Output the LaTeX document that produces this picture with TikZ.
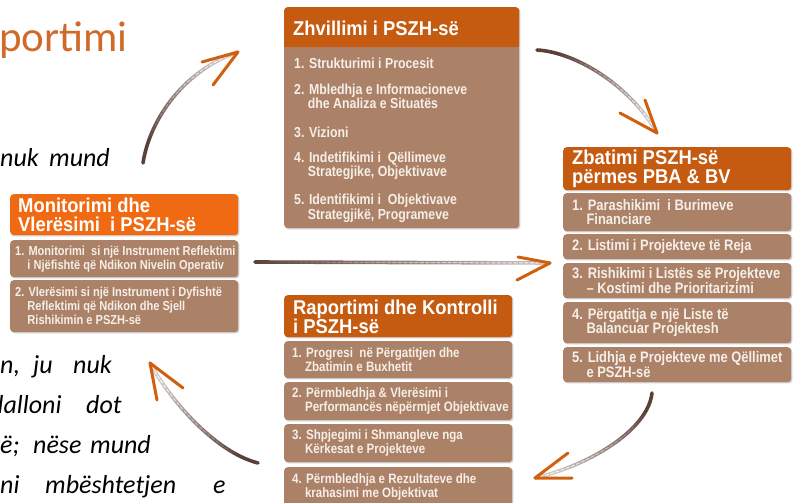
\documentclass[tikz,border=0pt]{standalone}
\usepackage{fontspec}
\setmainfont{Carlito}
\newfontfamily\boxfont[FakeStretch=0.92]{Liberation Sans}
\newfontfamily\itemfont[FakeStretch=0.85]{Liberation Sans}
\usetikzlibrary{fadings,shadows}

\definecolor{hdrorange}{HTML}{C55A11}
\definecolor{hdrbright}{HTML}{F06A14}
\definecolor{bodybrown}{HTML}{AB8267}
\definecolor{itemwhite}{HTML}{F6EEE8}
\definecolor{shaftbrown}{HTML}{5B4038}
\definecolor{headorange}{HTML}{D0600E}
\definecolor{titleorange}{HTML}{D06A28}

\tikzfading[name=shaftfade, left color=transparent!0, right color=transparent!70]
\tikzfading[name=dashfade, left color=transparent!100, right color=transparent!10]

% indent of a second line, aligned after the item number
\newcommand\hng{\hphantom{1.\ }}

\tikzset{
  panel/.style={rounded corners=3.5pt, inner sep=0pt, anchor=north west},
  shadowed/.style={drop shadow={shadow xshift=1.2pt, shadow yshift=-1.2pt, fill=black, opacity=0.18}},
  hdrbox/.style={panel, fill=hdrorange},
  itembox/.style={panel, fill=bodybrown, shadowed},
  hdrtext/.style={font=\boxfont\bfseries\fontsize{20}{19.5}\selectfont, text=white, align=left, anchor=west, inner sep=0pt},
  itemtext/.style={font=\itemfont\bfseries\fontsize{14.5}{13.5}\selectfont, text=itemwhite, align=left, anchor=west, inner sep=0pt},
  widetext/.style={itemtext, font=\itemfont\bfseries\fontsize{15.2}{14.5}\selectfont},
  nartext/.style={itemtext, font=\itemfont\bfseries\fontsize{13.6}{13.5}\selectfont},
  smalltext/.style={itemtext, font=\itemfont\bfseries\fontsize{13}{14}\selectfont},
  prose/.style={font=\itshape\fontsize{26}{30}\selectfont, anchor=base west, inner sep=0pt},
  shaft/.style={line width=3.6pt, draw=shaftbrown, line cap=round, path fading=shaftfade},
  shaftdash/.style={line width=1pt, draw=white, dash pattern=on 4pt off 1.5pt, path fading=dashfade},
  tip/.style={line width=3pt, draw=headorange, line cap=round, line join=round},
}

\begin{document}
\begin{tikzpicture}[x=1pt, y=-1pt]
\useasboundingbox (0,0) rectangle (793,503);
\clip (0,0) rectangle (793,503);

% slide title and body text partly covered by the cycle
\node[font=\fontsize{43}{43}\selectfont, text=titleorange, anchor=base west, inner sep=0pt] (title) at (-1,52) {portimi};

\node[prose] (p1a) at (0,166) {nuk};
\node[prose] (p1b) at (49,166) {mund};
\node[prose] (p2a) at (0,373) {n,};
\node[prose] (p2b) at (33,373) {ju};
\node[prose] (p2c) at (73,373) {nuk};
\node[prose] (p3a) at (-10,413) {dalloni};
\node[prose] (p3b) at (86,413) {dot};
\node[prose] (p4a) at (-9,453) {rë;};
\node[prose] (p4b) at (33,453) {nëse};
\node[prose] (p4c) at (90,453) {mund};
\node[prose] (p5a) at (0,493) {ni};
\node[prose] (p5b) at (45,493) {mbështetjen};
\node[prose] (p5c) at (213,493) {e};

% ---- Zhvillimi i PSZH-se (one panel with header)
\node[itembox, minimum width=235pt, minimum height=221pt] (abody) at (284,7) {};
\node[hdrbox, minimum width=235pt, minimum height=40pt] (ahead) at (284,7) {};
\fill[hdrorange] (ahead.west) rectangle (ahead.south east);
\node[hdrtext] (aheadt) at (293,28) {Zhvillimi i PSZH-së};
\node[itemtext] (a1) at (294,63) {1. Strukturimi i Procesit};
\node[itemtext] (a2) at (294,96.5) {2. Mbledhja e Informacioneve\\\hng dhe Analiza e Situatës};
\node[itemtext] (a3) at (294,132) {3. Vizioni};
\node[itemtext] (a4) at (294,166) {4. Indetifikimi i\ \ Qëllimeve\\\hng Strategjike, Objektivave};
\node[itemtext] (a5) at (294,208.5) {5. Identifikimi i\ \ Objektivave\\\hng Strategjikë, Programeve};

% ---- Zbatimi PSZH-se
\node[hdrbox, shadowed, minimum width=228pt, minimum height=43pt] (bhead) at (563,147) {};
\node[hdrtext] (bheadt) at (572,169) {Zbatimi PSZH-së\\përmes PBA \& BV};
\node[itembox, minimum width=228pt, minimum height=38pt] (b1) at (563,193) {};
\node[itembox, minimum width=228pt, minimum height=25pt] (b2) at (563,234) {};
\node[itembox, minimum width=228pt, minimum height=35pt] (b3) at (563,263) {};
\node[itembox, minimum width=228pt, minimum height=41pt] (b4) at (563,302) {};
\node[itembox, minimum width=228pt, minimum height=35pt] (b5) at (563,347) {};
\node[widetext] (b1t) at ([xshift=9pt]b1.west) {1. Parashikimi\ \ i Burimeve\\\hng Financiare};
\node[widetext] (b2t) at ([xshift=9pt]b2.west) {2. Listimi i Projekteve të Reja};
\node[widetext] (b3t) at ([xshift=9pt]b3.west) {3. Rishikimi i Listës së Projekteve\\\hng – Kostimi dhe Prioritarizimi};
\node[widetext] (b4t) at ([xshift=9pt]b4.west) {4. Përgatitja e një Liste të\\\hng Balancuar Projektesh};
\node[widetext] (b5t) at ([xshift=9pt]b5.west) {5. Lidhja e Projekteve me Qëllimet\\\hng e PSZH-së};

% ---- Monitorimi dhe Vleresimi
\node[hdrbox, shadowed, fill=hdrbright, minimum width=228pt, minimum height=41pt] (chead) at (10,194) {};
\node[hdrtext] (cheadt) at (18,215) {Monitorimi dhe\\Vlerësimi\ \ i PSZH-së};
\node[itembox, minimum width=228pt, minimum height=37pt] (c1) at (10,240) {};
\node[itembox, minimum width=228pt, minimum height=52pt] (c2) at (10,280) {};
\node[smalltext] (c1t) at ([xshift=5pt]c1.west) {1. Monitorimi\ \ si një Instrument Reflektimi\\\hng i Njëfishtë që Ndikon Nivelin Operativ};
\node[smalltext] (c2t) at ([xshift=5pt]c2.west) {2. Vlerësimi si një Instrument i Dyfishtë\\\hng Reflektimi që Ndikon dhe Sjell\\\hng Rishikimin e PSZH-së};

% ---- Raportimi dhe Kontrolli
\node[hdrbox, shadowed, minimum width=228pt, minimum height=42pt] (dhead) at (284,295) {};
\node[hdrtext] (dheadt) at (293,317) {Raportimi dhe Kontrolli\\i PSZH-së};
\node[itembox, minimum width=228pt, minimum height=37pt] (d1) at (284,341) {};
\node[itembox, minimum width=228pt, minimum height=38pt] (d2) at (284,382) {};
\node[itembox, minimum width=228pt, minimum height=38pt] (d3) at (284,424) {};
\node[itembox, minimum width=228pt, minimum height=40pt] (d4) at (284,467) {};
\node[nartext] (d1t) at ([xshift=8pt]d1.west) {1. Progresi\ \ në Përgatitjen dhe\\\hng Zbatimin e Buxhetit};
\node[nartext] (d2t) at ([xshift=8pt]d2.west) {2. Përmbledhja \& Vlerësimi i\\\hng Performancës nëpërmjet Objektivave};
\node[nartext] (d3t) at ([xshift=8pt]d3.west) {3. Shpjegimi i Shmangleve nga\\\hng Kërkesat e Projekteve};
\node[nartext] (d4t) at ([xshift=8pt]d4.west) {4. Përmbledhja e Rezultateve dhe\\\hng krahasimi me Objektivat};

% ---- brush arrows of the cycle
\coordinate (a1s) at (143,163); \coordinate (a1e) at (238,52);
\coordinate (a1l) at (202,62);  \coordinate (a1r) at (213,85);
\draw[shaft, fading angle=49] (a1s) .. controls (150,118) and (185,70) .. (a1e);
\draw[shaftdash, fading angle=49] (a1s) .. controls (150,118) and (185,70) .. (a1e);
\draw[tip] (a1l) -- (a1e) -- (a1r);

\coordinate (a2s) at (537,50); \coordinate (a2e) at (657,133);
\coordinate (a2l) at (620,113); \coordinate (a2r) at (645,100);
\draw[shaft, fading angle=-35] (a2s) .. controls (575,52) and (630,85) .. (a2e);
\draw[shaftdash, fading angle=-35] (a2s) .. controls (575,52) and (630,85) .. (a2e);
\draw[tip] (a2l) -- (a2e) -- (a2r);

\coordinate (a3s) at (652,393); \coordinate (a3e) at (535,478);
\coordinate (a3l) at (568,453); \coordinate (a3r) at (572,478);
\draw[shaft, fading angle=216] (a3s) .. controls (648,430) and (590,465) .. (a3e);
\draw[shaftdash, fading angle=216] (a3s) .. controls (648,430) and (590,465) .. (a3e);
\draw[tip] (a3l) -- (a3e) -- (a3r);

\coordinate (a4s) at (258,463); \coordinate (a4e) at (150,363);
\coordinate (a4l) at (183,388); \coordinate (a4r) at (157,400);
\draw[shaft, fading angle=137] (a4s) .. controls (215,452) and (170,400) .. (a4e);
\draw[shaftdash, fading angle=137] (a4s) .. controls (215,452) and (170,400) .. (a4e);
\draw[tip] (a4l) -- (a4e) -- (a4r);

\coordinate (a5s) at (255,262); \coordinate (a5e) at (550,263);
\coordinate (a5l) at (518,257); \coordinate (a5r) at (517,280);
\draw[shaft] (a5s) -- (a5e);
\draw[shaftdash] (a5s) -- (a5e);
\draw[tip] (a5l) -- (a5e) -- (a5r);
\end{tikzpicture}
\end{document}
